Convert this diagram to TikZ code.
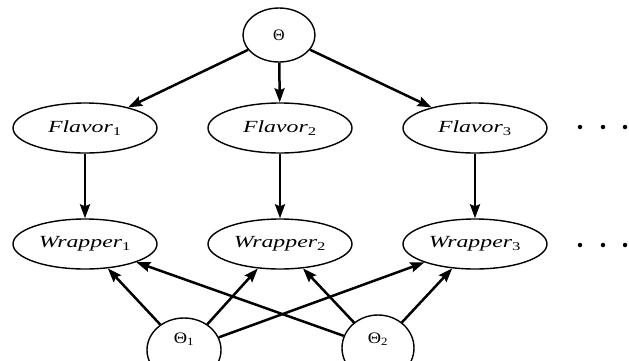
\documentclass[tikz,border=0pt]{standalone}
\usepackage{fontspec}
\usepackage{graphicx}
\setmainfont{Liberation Serif}
\usetikzlibrary{shapes.geometric,arrows.meta}
% horizontally widened label text
\newcommand{\widelabel}[1]{\scalebox{1.4}[1]{#1}}
\newcommand{\paramlabel}[1]{\scalebox{1.15}[1]{#1}}
\begin{document}
\begin{tikzpicture}[x=1pt,y=-1pt,
  var/.style={draw, ellipse, line width=1.4pt, inner sep=0pt,
    minimum width=144pt, minimum height=50pt,
    font=\fontsize{17}{20}\selectfont},
  param/.style={draw, ellipse, line width=1.4pt, inner sep=0pt},
  plabel/.style={font=\fontsize{16}{18}\selectfont, inner sep=0pt},
  edge/.style={line width=2.5pt, -{Stealth[length=14pt,width=10pt,inset=2pt]}},
  dot/.style={circle, fill=black, inner sep=0pt, minimum size=4.5pt}
]
\useasboundingbox (0,0) rectangle (629,360);

% global parameter
\node[param, minimum width=72pt, minimum height=54pt, plabel] (th) at (279,35) {Θ};

% flavor variables
\node[var] (f1) at (85,128)  {\widelabel{\textit{Flavor}\textsubscript{1}}};
\node[var] (f2) at (280,128) {\widelabel{\textit{Flavor}\textsubscript{2}}};
\node[var] (f3) at (475,128) {\widelabel{\textit{Flavor}\textsubscript{3}}};

% wrapper variables
\node[var] (w1) at (85,244)  {\widelabel{\textit{Wrapper}\textsubscript{1}}};
\node[var] (w2) at (280,244) {\widelabel{\textit{Wrapper}\textsubscript{2}}};
\node[var] (w3) at (475,244) {\widelabel{\textit{Wrapper}\textsubscript{3}}};

% wrapper parameters
\node[param, minimum width=74pt, minimum height=64pt] (t1) at (184,350) {};
\node[plabel] (t1l) at (184,339) {\paramlabel{Θ\textsubscript{1}}};
\node[param, minimum width=72pt, minimum height=66pt] (t2) at (378,348) {};
\node[plabel] (t2l) at (378,339) {\paramlabel{Θ\textsubscript{2}}};

% continuation dots
\foreach \y/\r in {127/a,245/b}{
  \node[dot] (d1\r) at (580,\y) {};
  \node[dot] (d2\r) at (603,\y) {};
  \node[dot] (d3\r) at (625,\y) {};
}

% edges
\draw[edge] (th) -- (f1);
\draw[edge] (th) -- (f2);
\draw[edge] (th) -- (f3);
\draw[edge] (f1) -- (w1);
\draw[edge] (f2) -- (w2);
\draw[edge] (f3) -- (w3);
\draw[edge] (t1) -- (w1);
\draw[edge] (t1) -- (w2);
\draw[edge] (t1) -- (w3);
\draw[edge] (t2) -- (w1);
\draw[edge] (t2) -- (w2);
\draw[edge] (t2) -- (w3);
\end{tikzpicture}
\end{document}
